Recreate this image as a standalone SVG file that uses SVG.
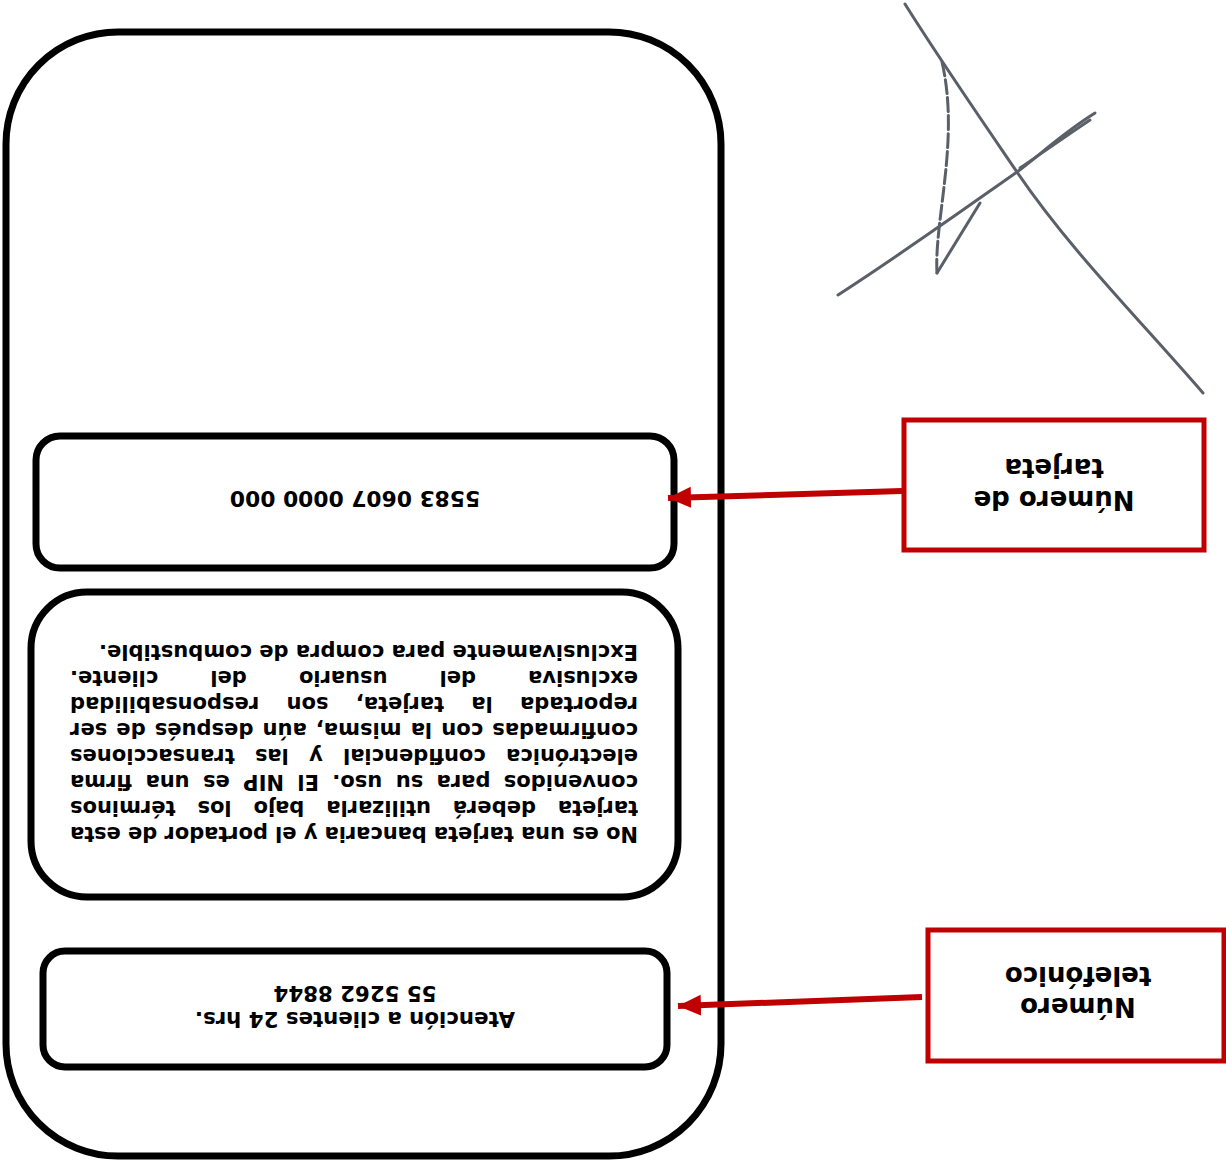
<svg xmlns="http://www.w3.org/2000/svg" width="1226" height="1162" viewBox="0 0 1226 1162">
<defs>
<style>
.box{fill:#fff;stroke:#000;stroke-width:7}
.lbl{fill:#fff;stroke:#C00000;stroke-width:5}
.t{font-family:"DejaVu Sans","Liberation Sans",sans-serif;font-weight:bold;fill:#000}
.p{font-size:21px}
.sig{fill:none;stroke:#5a5f68;stroke-width:3;stroke-linecap:round;stroke-linejoin:round}
.conn{stroke:#C00000;stroke-width:6;fill:none}
</style>
<marker id="ah" markerWidth="24" markerHeight="24" refX="23" refY="12" orient="auto" markerUnits="userSpaceOnUse">
<path d="M0,1.5 L23,12 L0,22.5 Z" fill="#C00000"/>
</marker>
</defs>
<rect width="1226" height="1162" fill="#fff"/>

<g id="signature">
<path class="sig" d="M905,4 C940,60 985,125 1017,172 C1070,250 1140,320 1203,393"/>
<path class="sig" d="M1095,113 C1060,135 1040,155 1017,172 C960,212 900,255 838,295"/>
<path class="sig" d="M1090,120 C1060,140 1035,158 1020,168" stroke-width="1.5"/>
<path class="sig" d="M980,203 L937,273"/>
<path class="sig" d="M937,273 C934,220 960,140 942,62" stroke-width="1.4" stroke-dasharray="14 4"/>
</g>

<g id="card">
<rect class="box" x="6" y="32" width="715" height="1124" rx="112" ry="112"/>
</g>

<g id="card-number">
<rect class="box" x="36" y="436" width="638" height="132" rx="24" ry="24"/>
<g transform="rotate(180 613 581)">
<text class="t" font-size="21.8" x="871" y="671" text-anchor="middle">5583 0607 0000 000</text>
</g>
</g>

<g id="terms">
<rect class="box" x="31" y="592" width="647" height="305" rx="56" ry="56"/>
<g transform="rotate(180 613 581)" class="t p">
<text x="588" y="335" word-spacing="0" textLength="568" lengthAdjust="spacing">No es una tarjeta bancaria y el portador de esta</text>
<text x="588" y="361" word-spacing="14.6" textLength="568" lengthAdjust="spacing">tarjeta deberá utilizarla bajo los términos</text>
<text x="588" y="387" word-spacing="6" textLength="568" lengthAdjust="spacing">convenidos para su uso. El NIP es una firma</text>
<text x="588" y="413" word-spacing="12.9" textLength="568" lengthAdjust="spacing">electrónica confidencial y las transacciones</text>
<text x="588" y="439" word-spacing="1.8" textLength="568" lengthAdjust="spacing">confirmadas con la misma, aún después de ser</text>
<text x="588" y="465" word-spacing="20" textLength="568" lengthAdjust="spacing">reportada la tarjeta, son responsabilidad</text>
<text x="588" y="491" word-spacing="44.8" textLength="568" lengthAdjust="spacing">exclusiva del usuario del cliente.</text>
<text x="588" y="517">Exclusivamente para compra de combustible.</text>
</g>
</g>

<g id="phone">
<rect class="box" x="43" y="951" width="624" height="116" rx="22" ry="22"/>
<g transform="rotate(180 613 581)" class="t" font-size="21.3">
<text x="871" y="150" text-anchor="middle">Atención a clientes 24 hrs.</text>
<text x="871" y="176" text-anchor="middle">55 5262 8844</text>
</g>
</g>

<g id="label-card-number">
<rect class="lbl" x="904" y="420" width="300" height="130"/>
<g transform="rotate(180 613 581)" class="t" font-size="26">
<text x="172" y="671" text-anchor="middle">Número de</text>
<text x="172" y="703" text-anchor="middle">tarjeta</text>
</g>
</g>

<g id="label-phone">
<rect class="lbl" x="928" y="930" width="296" height="131"/>
<g transform="rotate(180 613 581)" class="t" font-size="26">
<text x="148" y="164" text-anchor="middle">Número</text>
<text x="148" y="195" text-anchor="middle">telefónico</text>
</g>
</g>

<g id="connectors">
<line class="conn" x1="902" y1="491" x2="668" y2="498" marker-end="url(#ah)"/>
<line class="conn" x1="922" y1="997" x2="678" y2="1006" marker-end="url(#ah)"/>
</g>
</svg>
